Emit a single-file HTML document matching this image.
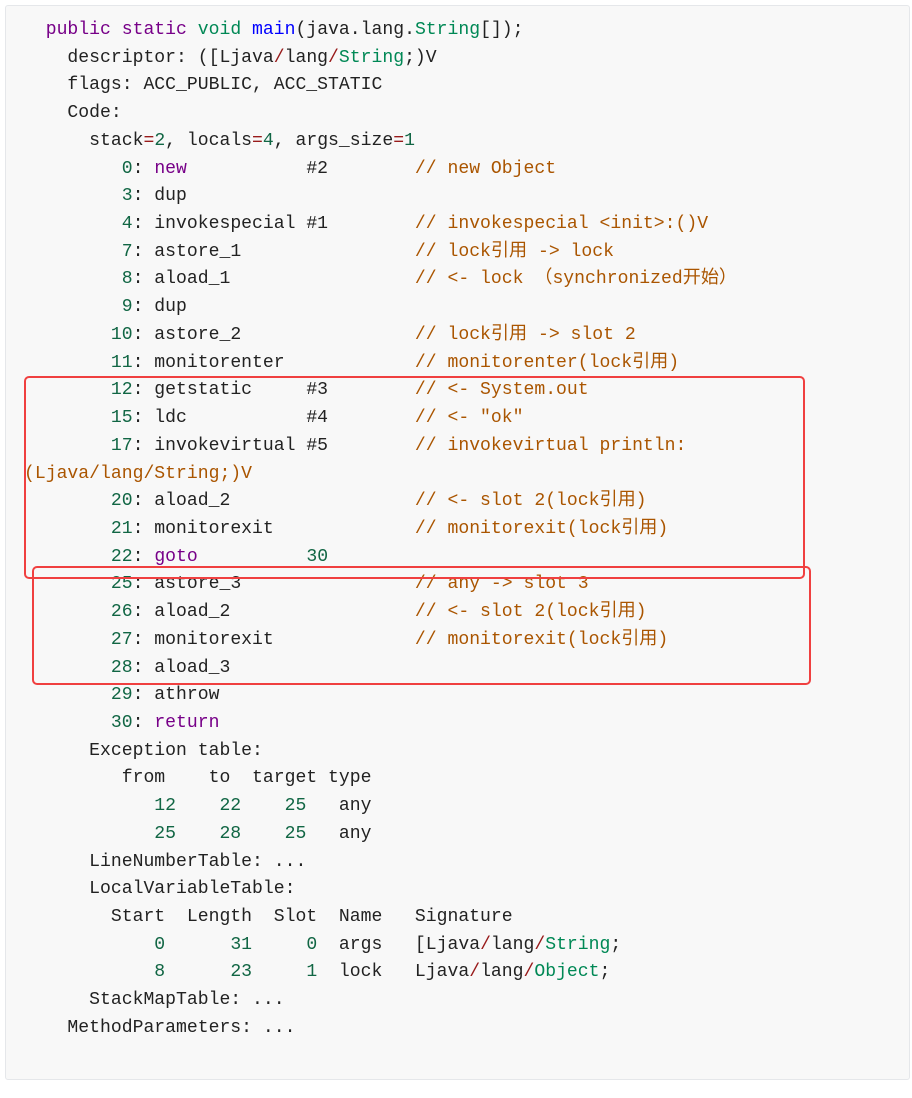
<!DOCTYPE html>
<html><head><meta charset="utf-8"><style>
html,body{margin:0;padding:0;background:#fff;width:912px;height:1098px;overflow:hidden}
.panel{position:absolute;left:5px;top:5px;width:903px;height:1073px;background:#f8f8f8;border:1px solid #e5e7ea;border-radius:3px}
pre{position:absolute;left:24px;top:17px;margin:0;font-family:"Liberation Mono","Noto Sans CJK SC",monospace;font-size:18.1px;line-height:27.72px;color:#222;white-space:pre}
.k{color:#770088}.t{color:#008855}.d{color:#0000ff}.n{color:#116644}.o{color:#981a1a}.c{color:#aa5500}
.box{position:absolute;border:2px solid #f04040;border-radius:5px}
</style></head><body>
<div class="panel"></div>
<pre>  <span class="k">public</span> <span class="k">static</span> <span class="t">void</span> <span class="d">main</span>(java.lang.<span class="t">String</span>[]);
    descriptor: ([Ljava<span class="o">/</span>lang<span class="o">/</span><span class="t">String</span>;)V
    flags: ACC_PUBLIC, ACC_STATIC
    Code:
      stack<span class="o">=</span><span class="n">2</span>, locals<span class="o">=</span><span class="n">4</span>, args_size<span class="o">=</span><span class="n">1</span>
         <span class="n">0</span>: <span class="k">new</span>           #2        <span class="c">// new Object</span>
         <span class="n">3</span>: dup
         <span class="n">4</span>: invokespecial #1        <span class="c">// invokespecial &lt;init&gt;:()V</span>
         <span class="n">7</span>: astore_1                <span class="c">// lock引用 -&gt; lock</span>
         <span class="n">8</span>: aload_1                 <span class="c">// &lt;- lock （synchronized开始）</span>
         <span class="n">9</span>: dup
        <span class="n">10</span>: astore_2                <span class="c">// lock引用 -&gt; slot 2</span>
        <span class="n">11</span>: monitorenter            <span class="c">// monitorenter(lock引用)</span>
        <span class="n">12</span>: getstatic     #3        <span class="c">// &lt;- System.out</span>
        <span class="n">15</span>: ldc           #4        <span class="c">// &lt;- "ok"</span>
        <span class="n">17</span>: invokevirtual #5        <span class="c">// invokevirtual println:</span>
<span class="c">(Ljava/lang/String;)V</span>
        <span class="n">20</span>: aload_2                 <span class="c">// &lt;- slot 2(lock引用)</span>
        <span class="n">21</span>: monitorexit             <span class="c">// monitorexit(lock引用)</span>
        <span class="n">22</span>: <span class="k">goto</span>          <span class="n">30</span>
        <span class="n">25</span>: astore_3                <span class="c">// any -&gt; slot 3</span>
        <span class="n">26</span>: aload_2                 <span class="c">// &lt;- slot 2(lock引用)</span>
        <span class="n">27</span>: monitorexit             <span class="c">// monitorexit(lock引用)</span>
        <span class="n">28</span>: aload_3
        <span class="n">29</span>: athrow
        <span class="n">30</span>: <span class="k">return</span>
      Exception table:
         from    to  target type
            <span class="n">12</span>    <span class="n">22</span>    <span class="n">25</span>   any
            <span class="n">25</span>    <span class="n">28</span>    <span class="n">25</span>   any
      LineNumberTable: ...
      LocalVariableTable:
        Start  Length  Slot  Name   Signature
            <span class="n">0</span>      <span class="n">31</span>     <span class="n">0</span>  args   [Ljava<span class="o">/</span>lang<span class="o">/</span><span class="t">String</span>;
            <span class="n">8</span>      <span class="n">23</span>     <span class="n">1</span>  lock   Ljava<span class="o">/</span>lang<span class="o">/</span><span class="t">Object</span>;
      StackMapTable: ...
    MethodParameters: ...</pre>
<div class="box" style="left:24px;top:376px;width:777px;height:199px"></div>
<div class="box" style="left:32px;top:566px;width:775px;height:115px"></div>
</body></html>
